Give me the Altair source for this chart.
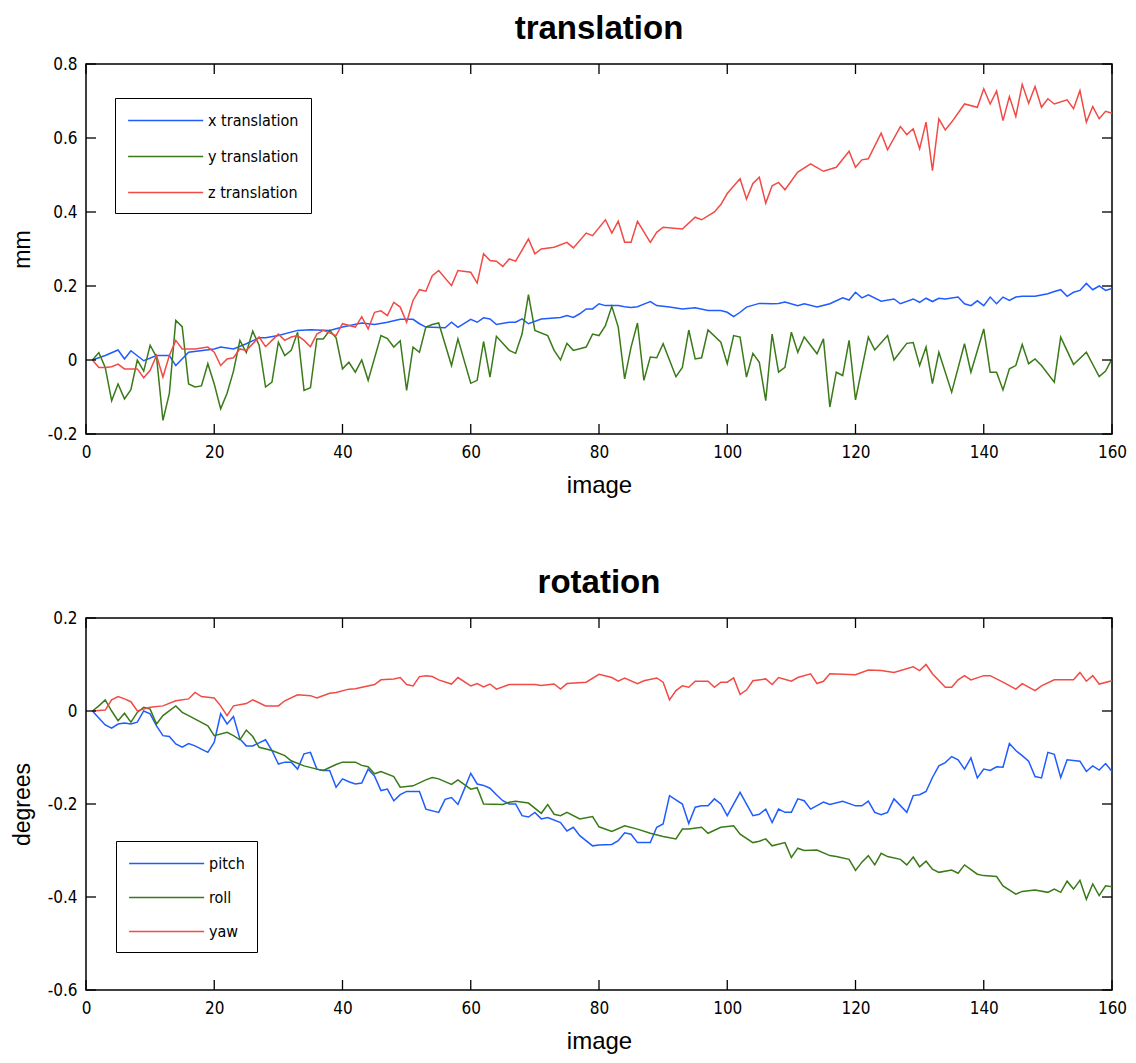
import altair as alt
import pandas as pd

# ---------------- data ----------------
X_TR_IMG = [1,3,5,6,7,9,11,13,14,16,
 20,21,23,25,27,28,30,33,35,38,
 40,43,45,47,49,51,52,53,56,57,
 58,60,61,62,63,64,66,67,68,69,
 71,74,75,76,77,78,79,80,81,83,
 84,85,86,87,88,89,91,93,95,97,
 99,100,101,102,103,105,107,108,109,111,
 112,114,116,118,119,120,121,122,124,126,
 127,129,130,131,132,133,134,136,137,138,
 139,140,141,142,143,144,145,146,148,150,
 151,152,153,154,155,156,157,158,159,160]
X_TR_VAL = [0,0.012,0.027,0.003,0.025,-0.002,0.012,0.012,-0.015,0.021,
 0.03,0.035,0.03,0.044,0.06,0.06,0.066,0.08,0.082,0.08,
 0.089,0.1,0.096,0.102,0.11,0.11,0.098,0.089,0.087,0.102,
 0.088,0.11,0.102,0.114,0.111,0.096,0.102,0.102,0.111,0.098,
 0.111,0.115,0.12,0.115,0.125,0.138,0.138,0.152,0.147,0.147,
 0.144,0.142,0.144,0.151,0.158,0.147,0.143,0.138,0.141,0.134,
 0.134,0.129,0.117,0.129,0.143,0.153,0.152,0.153,0.157,0.147,
 0.152,0.143,0.152,0.168,0.162,0.183,0.168,0.176,0.159,0.165,
 0.152,0.165,0.156,0.167,0.158,0.167,0.165,0.17,0.152,0.147,
 0.16,0.147,0.17,0.152,0.17,0.161,0.17,0.172,0.172,0.179,
 0.185,0.19,0.172,0.183,0.188,0.207,0.19,0.2,0.188,0.193]

Y_TR_IMG = [1,2,3,4,5,6,7,8,9,10,
 11,12,13,14,15,16,17,18,19,20,
 21,22,23,24,25,26,27,28,29,30,
 31,32,33,34,35,36,37,38,39,40,
 41,42,43,44,46,47,48,49,50,51,
 52,53,54,55,57,58,60,61,62,63,
 64,66,67,68,69,70,72,73,74,75,
 76,78,79,80,81,82,83,84,85,86,
 87,88,89,90,92,93,94,95,96,97,
 99,100,101,102,103,104,105,106,107,108,
 109,110,111,112,114,115,116,117,118,119,
 120,122,123,125,126,128,129,130,131,132,
 133,135,137,138,140,141,142,143,144,145,
 146,147,148,149,151,152,154,156,158,159,
 160]
Y_TR_VAL = [0,0.02,-0.02,-0.11,-0.065,-0.105,-0.08,0,-0.03,0.04,
 0.008,-0.163,-0.09,0.107,0.09,-0.065,-0.073,-0.07,-0.01,-0.065,
 -0.132,-0.09,-0.03,0.053,0.02,0.078,0.04,-0.073,-0.06,0.048,
 0.012,0.026,0.075,-0.082,-0.075,0.057,0.057,0.08,0.06,-0.024,
 -0.006,-0.033,0,-0.055,0.066,0.058,0.035,0.052,-0.082,0.035,
 0.021,0.089,0.096,0.1,-0.015,0.057,-0.063,-0.055,0.05,-0.046,
 0.064,0.026,0.018,0.07,0.177,0.08,0.066,0.026,0,0.045,
 0.026,0.035,0.07,0.066,0.093,0.145,0.089,-0.051,0.035,0.1,
 -0.055,0.008,0.006,0.044,-0.045,-0.02,0.081,0.003,0.006,0.081,
 0.048,-0.01,0.066,0.062,-0.046,0.018,-0.006,-0.11,0.07,-0.033,
 -0.02,0.075,0.021,0.062,0.017,0.057,-0.127,-0.033,-0.042,0.053,
 -0.108,0.062,0.027,0.066,0,0.045,0.047,-0.015,0.035,-0.064,
 0.021,-0.087,0.044,-0.033,0.084,-0.033,-0.033,-0.081,-0.024,-0.015,
 0.042,-0.01,0.003,-0.015,-0.06,0.062,-0.012,0.021,-0.045,-0.03,
 0.003]

Z_TR_IMG = [1,2,3,4,5,6,8,9,10,11,
 12,13,14,15,17,19,20,21,22,23,
 24,25,27,28,29,30,31,32,33,34,
 35,36,37,39,40,42,43,44,45,46,
 47,48,49,50,51,52,53,54,55,57,
 58,60,61,62,63,64,65,66,67,69,
 70,71,73,75,76,78,79,81,82,83,
 84,85,86,88,89,90,93,95,96,98,
 99,100,101,102,103,104,105,106,107,108,
 109,111,113,115,117,119,120,121,122,124,
 125,127,128,129,130,131,132,133,134,135,
 137,139,140,141,142,143,144,145,146,147,
 148,149,150,151,153,154,155,156,157,158,
 159,160]
Z_TR_VAL = [0,-0.02,-0.02,-0.018,-0.011,-0.024,-0.024,-0.048,-0.028,0.012,
 -0.046,0.012,0.053,0.03,0.03,0.035,0.021,-0.015,0.003,0.006,
 0.03,0.026,0.062,0.036,0.053,0.07,0.053,0.062,0.066,0.053,
 0.036,0.07,0.08,0.066,0.098,0.089,0.117,0.084,0.129,0.133,
 0.12,0.156,0.143,0.102,0.161,0.19,0.186,0.228,0.242,0.201,
 0.242,0.237,0.208,0.287,0.269,0.267,0.253,0.273,0.267,0.327,
 0.287,0.3,0.305,0.318,0.303,0.343,0.336,0.379,0.343,0.375,
 0.318,0.318,0.375,0.318,0.345,0.359,0.354,0.386,0.379,0.4,
 0.42,0.45,0.47,0.49,0.435,0.477,0.494,0.424,0.471,0.48,
 0.46,0.508,0.53,0.51,0.521,0.564,0.521,0.541,0.544,0.613,
 0.568,0.631,0.609,0.625,0.571,0.643,0.512,0.652,0.622,0.643,
 0.692,0.683,0.733,0.692,0.727,0.647,0.712,0.658,0.745,0.694,
 0.739,0.683,0.706,0.692,0.703,0.679,0.728,0.643,0.685,0.652,
 0.672,0.667]

PITCH_IMG = [1,2,3,4,5,6,7,8,9,10,
 11,12,13,14,15,16,17,18,19,20,
 21,22,23,24,25,26,28,29,30,31,
 32,33,34,35,36,37,38,39,40,41,
 42,43,44,45,46,47,48,49,50,52,
 53,55,56,57,58,59,60,61,62,63,
 64,65,66,67,68,69,70,71,72,74,
 75,76,77,79,80,82,83,84,85,86,
 88,89,90,91,92,93,94,95,96,97,
 98,99,100,102,104,105,106,107,108,109,
 110,111,112,113,115,116,118,120,121,122,
 123,124,125,126,128,129,130,131,132,133,
 134,135,136,137,138,139,140,141,142,143,
 144,145,146,147,148,149,150,151,152,153,
 155,156,157,158,159,160]
PITCH_VAL = [0,-0.015,-0.03,-0.037,-0.028,-0.026,-0.028,-0.024,0,-0.006,
 -0.032,-0.053,-0.055,-0.071,-0.078,-0.07,-0.075,-0.082,-0.089,-0.067,
 -0.006,-0.028,-0.012,-0.06,-0.075,-0.075,-0.062,-0.085,-0.114,-0.11,
 -0.11,-0.125,-0.092,-0.089,-0.125,-0.128,-0.128,-0.164,-0.146,-0.152,
 -0.157,-0.155,-0.125,-0.14,-0.171,-0.168,-0.193,-0.18,-0.173,-0.173,
 -0.211,-0.218,-0.19,-0.186,-0.201,-0.168,-0.134,-0.157,-0.16,-0.166,
 -0.18,-0.193,-0.2,-0.2,-0.225,-0.228,-0.218,-0.232,-0.229,-0.24,
 -0.258,-0.25,-0.268,-0.29,-0.288,-0.287,-0.279,-0.262,-0.265,-0.283,
 -0.283,-0.25,-0.243,-0.182,-0.191,-0.2,-0.242,-0.207,-0.204,-0.204,
 -0.189,-0.2,-0.225,-0.175,-0.225,-0.222,-0.211,-0.24,-0.211,-0.218,
 -0.218,-0.189,-0.193,-0.211,-0.196,-0.201,-0.194,-0.204,-0.204,-0.194,
 -0.218,-0.223,-0.218,-0.189,-0.218,-0.182,-0.18,-0.173,-0.143,-0.118,
 -0.111,-0.098,-0.105,-0.125,-0.101,-0.144,-0.125,-0.128,-0.12,-0.121,
 -0.07,-0.085,-0.096,-0.108,-0.141,-0.144,-0.089,-0.093,-0.143,-0.105,
 -0.108,-0.13,-0.118,-0.127,-0.113,-0.13]

ROLL_IMG = [1,2,3,4,5,6,7,8,9,10,
 11,12,14,15,16,19,20,22,23,24,
 25,26,27,29,31,32,34,36,37,39,
 40,42,43,44,45,46,48,49,51,53,
 54,55,57,58,60,61,62,65,66,67,
 69,71,72,73,74,75,77,79,80,82,
 84,86,88,90,92,93,94,96,97,99,
 101,102,104,105,106,107,109,110,111,112,
 114,116,117,119,120,121,122,123,124,125,
 127,128,129,130,131,132,133,135,136,137,
 139,140,142,143,145,146,148,150,151,152,
 153,154,155,156,157,158,159,160]
ROLL_VAL = [0,0.011,0.024,0,-0.021,-0.005,-0.024,-0.003,0.008,0.004,
 -0.028,-0.01,0.011,-0.003,-0.01,-0.032,-0.053,-0.046,-0.053,-0.062,
 -0.041,-0.055,-0.078,-0.085,-0.096,-0.107,-0.118,-0.125,-0.128,-0.115,
 -0.11,-0.11,-0.117,-0.12,-0.135,-0.13,-0.141,-0.164,-0.161,-0.148,
 -0.143,-0.146,-0.158,-0.148,-0.168,-0.165,-0.2,-0.201,-0.196,-0.194,
 -0.198,-0.22,-0.201,-0.222,-0.225,-0.218,-0.232,-0.227,-0.249,-0.259,
 -0.247,-0.254,-0.263,-0.27,-0.275,-0.254,-0.254,-0.25,-0.263,-0.25,
 -0.247,-0.265,-0.283,-0.28,-0.275,-0.29,-0.283,-0.315,-0.295,-0.3,
 -0.299,-0.311,-0.313,-0.319,-0.343,-0.325,-0.311,-0.331,-0.306,-0.313,
 -0.319,-0.331,-0.314,-0.335,-0.323,-0.34,-0.347,-0.342,-0.349,-0.331,
 -0.351,-0.354,-0.356,-0.376,-0.394,-0.388,-0.385,-0.39,-0.383,-0.39,
 -0.366,-0.383,-0.364,-0.405,-0.372,-0.397,-0.376,-0.378]

YAW_IMG = [1,3,4,5,6,7,8,9,10,12,
 14,16,17,18,20,21,22,23,25,26,
 28,30,31,33,35,36,38,39,41,42,
 45,46,48,49,50,51,52,53,54,55,
 57,58,60,61,62,63,64,66,68,70,
 71,73,74,75,78,80,82,83,84,86,
 87,89,90,91,92,93,94,95,97,98,
 99,100,101,102,103,104,106,107,108,110,
 111,113,114,115,116,120,122,124,126,129,
 130,131,132,134,135,136,137,138,140,141,
 143,145,146,148,149,151,154,155,156,157,
 158,160]
YAW_VAL = [0,0.002,0.024,0.031,0.026,0.02,0,0.004,0.008,0.011,
 0.022,0.026,0.04,0.031,0.028,0.011,-0.01,0.011,0.016,0.024,
 0.011,0.011,0.022,0.035,0.033,0.028,0.038,0.04,0.047,0.048,
 0.057,0.067,0.069,0.072,0.057,0.054,0.074,0.076,0.074,0.067,
 0.058,0.072,0.054,0.059,0.052,0.058,0.047,0.057,0.057,0.057,
 0.055,0.058,0.047,0.059,0.062,0.079,0.072,0.064,0.071,0.059,
 0.065,0.071,0.062,0.024,0.044,0.054,0.051,0.064,0.064,0.051,
 0.062,0.062,0.071,0.036,0.045,0.065,0.069,0.057,0.072,0.064,
 0.072,0.08,0.059,0.064,0.08,0.078,0.088,0.087,0.083,0.095,
 0.087,0.1,0.08,0.051,0.051,0.067,0.076,0.067,0.076,0.076,
 0.062,0.047,0.059,0.044,0.054,0.067,0.067,0.083,0.064,0.076,
 0.058,0.065]

TRANS_NAMES = ["x translation", "y translation", "z translation"]
ROT_NAMES = ["pitch", "roll", "yaw"]
X_TICKS = [0, 20, 40, 60, 80, 100, 120, 140, 160]
TRANS_TICKS = [-0.2, 0, 0.2, 0.4, 0.6, 0.8]
ROT_TICKS = [-0.6, -0.4, -0.2, 0, 0.2]

# ---------------- styling ----------------
COLORS = ["#1f5cff", "#3a7a18", "#f24a45"]
NARROW = "DejaVu Sans Condensed, Liberation Sans Narrow, Liberation Sans"
SANS = "Liberation Sans, Arial, Helvetica"
W = 1026
H_TOP = 370
H_BOT = 372
TICK = 10


def make_df(series):
    rows = []
    for name, imgs, vals in series:
        for i, v in zip(imgs, vals):
            rows.append({"series": name, "image": i, "value": v})
    return pd.DataFrame(rows)


LABEL_EXPR = ("datum.value == 0 ? '0' : (datum.value < 0 ? '-' + format(-datum.value, '.1f')"
              " : format(datum.value, '.1f'))")


def panel(df, names, yticks, ydomain, title, ytitle, H, leg_x, leg_y, row_pad):
    xscale = alt.Scale(domain=[0, 160], nice=False, zero=False)
    yscale = alt.Scale(domain=ydomain, nice=False, zero=False)
    x = alt.X("image:Q", scale=xscale,
              axis=alt.Axis(values=X_TICKS, title="image", ticks=False, tickSize=0,
                            domain=False, grid=False, labelFont=NARROW, labelFontSize=17,
                            labelColor="#000", labelPadding=10, labelFlush=False,
                            titleFont=SANS, titleFontSize=24, titleFontWeight="normal",
                            titleColor="#000", titleY=58, titleBaseline="alphabetic",
                            format="d"))
    y = alt.Y("value:Q", scale=yscale,
              axis=alt.Axis(values=yticks, title=ytitle, ticks=False, tickSize=0,
                            domain=False, grid=False, labelFont=NARROW, labelFontSize=17,
                            labelColor="#000", labelPadding=9, labelFlush=False,
                            labelExpr=LABEL_EXPR, titleFont=SANS, titleFontSize=23,
                            titleFontWeight="normal", titleColor="#000", titleX=-57,
                            titleBaseline="alphabetic"))
    color = alt.Color("series:N", sort=names,
                      scale=alt.Scale(domain=names, range=COLORS),
                      legend=alt.Legend(orient="none", legendX=leg_x, legendY=leg_y,
                                        title=None, symbolType="M-1,0H7", symbolSize=352,
                                        symbolStrokeWidth=1.5, labelFont=NARROW,
                                        labelFontSize=16, labelColor="#000",
                                        labelOffset=60, rowPadding=row_pad, padding=12,
                                        strokeColor="#000", fillColor="#fff",
                                        labelLimit=300))
    lines = alt.Chart(df).mark_line(strokeWidth=1.5).encode(
        x=x, y=y, color=color, order=alt.Order("image:Q"))

    xt = pd.DataFrame({"image": X_TICKS})
    yt = pd.DataFrame({"value": yticks})
    rule = dict(color="#000", strokeWidth=1.3)
    xb = alt.Chart(xt).mark_rule(**rule).encode(
        x="image:Q", y=alt.value(H), y2=alt.value(H - TICK))
    xtp = alt.Chart(xt).mark_rule(**rule).encode(
        x="image:Q", y=alt.value(0), y2=alt.value(TICK))
    yl = alt.Chart(yt).mark_rule(**rule).encode(
        y="value:Q", x=alt.value(0), x2=alt.value(TICK))
    yr = alt.Chart(yt).mark_rule(**rule).encode(
        y="value:Q", x=alt.value(W), x2=alt.value(W - TICK))

    return alt.layer(lines, xb, xtp, yl, yr).properties(
        width=W, height=H,
        title=alt.TitleParams(title, font=SANS, fontSize=33, fontWeight="bold",
                              color="#000", anchor="middle", frame="group", offset=9))


trans_df = make_df([
    (TRANS_NAMES[0], X_TR_IMG, X_TR_VAL),
    (TRANS_NAMES[1], Y_TR_IMG, Y_TR_VAL),
    (TRANS_NAMES[2], Z_TR_IMG, Z_TR_VAL),
])
rot_df = make_df([
    (ROT_NAMES[0], PITCH_IMG, PITCH_VAL),
    (ROT_NAMES[1], ROLL_IMG, ROLL_VAL),
    (ROT_NAMES[2], YAW_IMG, YAW_VAL),
])

top = panel(trans_df, TRANS_NAMES, TRANS_TICKS, [-0.2, 0.8], "translation", "mm",
            H_TOP, 29, 34, 17)
bottom = panel(rot_df, ROT_NAMES, ROT_TICKS, [-0.6, 0.2], "rotation", "degrees",
               H_BOT, 30, 223, 15)

chart = alt.vconcat(top, bottom, spacing=68).resolve_scale(
    color="independent").resolve_legend(color="independent").properties(
    padding={"left": 2, "top": 4, "right": 0, "bottom": 0}, background="#fff"
).configure_view(stroke="#000", strokeWidth=1.5)

chart.save("out.html", embed_options={"renderer": "svg", "actions": False})
